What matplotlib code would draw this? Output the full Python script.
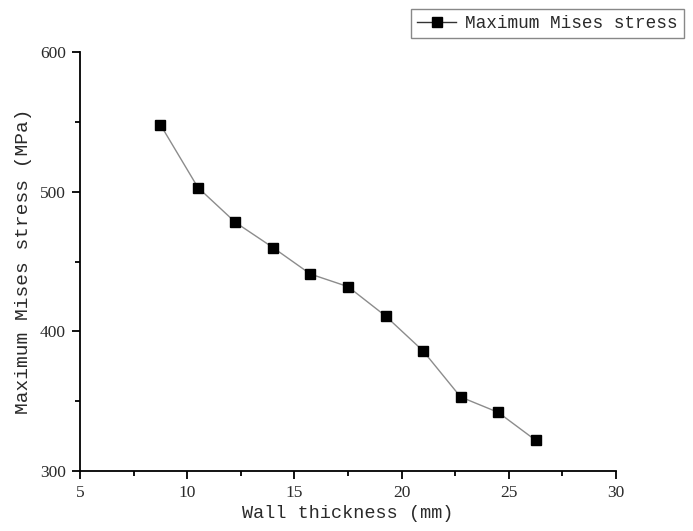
import matplotlib.pyplot as plt
from matplotlib.ticker import MultipleLocator

# Data
thickness = [8.75, 10.5, 12.25, 14.0, 15.75, 17.5, 19.25, 21.0, 22.75, 24.5, 26.25]
mises = [548, 503, 478, 460, 441, 432, 411, 386, 353, 342, 322]

mono = "Liberation Mono"
serif = "Liberation Serif"
text_col = "#2a2a2a"

fig = plt.figure(figsize=(6.93, 5.31), dpi=100)
ax = fig.add_axes([0.1154, 0.113, 0.7736, 0.789])

ax.plot(thickness, mises, color="#8c8c8c", linewidth=1.0, marker="s",
        markersize=7, markerfacecolor="black", markeredgecolor="black",
        label="Maximum Mises stress")

ax.set_xlim(5, 30)
ax.set_ylim(300, 600)
ax.xaxis.set_major_locator(MultipleLocator(5))
ax.xaxis.set_minor_locator(MultipleLocator(2.5))
ax.yaxis.set_major_locator(MultipleLocator(100))
ax.yaxis.set_minor_locator(MultipleLocator(50))

for s in ["top", "right"]:
    ax.spines[s].set_visible(False)
for s in ["left", "bottom"]:
    ax.spines[s].set_linewidth(1.3)

ax.tick_params(which="major", direction="out", length=6, width=1.3,
               labelsize=12.5, pad=4)
ax.tick_params(which="minor", direction="out", length=3.5, width=1.3)
for lab in ax.get_xticklabels() + ax.get_yticklabels():
    lab.set_fontfamily(serif)
    lab.set_color(text_col)

ax.set_xlabel("Wall thickness (mm)", fontfamily=mono, fontsize=13.3,
              color=text_col, labelpad=3)
ax.set_ylabel("Maximum Mises stress (MPa)", fontfamily=mono, fontsize=14,
              color=text_col, labelpad=6)

leg = fig.legend(loc="upper left", bbox_to_anchor=(411 / 693, 1 - 9 / 531),
                 prop={"family": mono, "size": 12.8}, fancybox=False,
                 edgecolor="#888888", framealpha=1, borderpad=0.35,
                 borderaxespad=0, handlelength=2.2, handletextpad=0.5)
leg.get_lines()[0].set_color("#333333")
for t in leg.get_texts():
    t.set_color(text_col)

fig.savefig("out.png", dpi=100)
